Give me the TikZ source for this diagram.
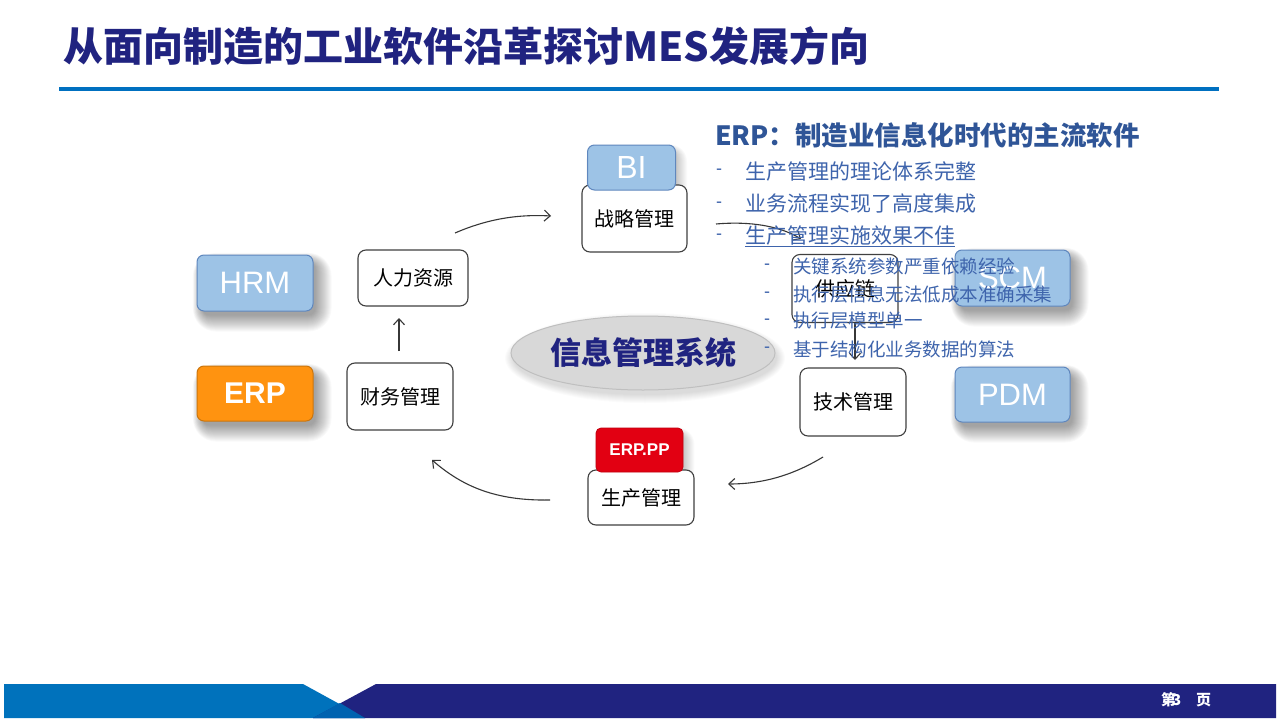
\documentclass[tikz,border=0pt]{standalone}
\usepackage{fontspec}
\setmainfont{Noto Sans CJK SC}
\newfontfamily\cjk{Noto Sans CJK SC}
\newfontfamily\arial{Liberation Sans}
\usetikzlibrary{arrows.meta,shapes.geometric,calc}
\pgfdeclarelayer{background}
\pgfsetlayers{background,main}
\definecolor{navy}{RGB}{32,35,128}
\definecolor{lineblue}{RGB}{0,112,192}
\definecolor{footblue}{RGB}{0,114,188}
\definecolor{midblue}{RGB}{0,98,176}
\definecolor{boxblue}{RGB}{157,195,230}
\definecolor{boxblueborder}{RGB}{95,135,190}
\definecolor{headblue}{RGB}{47,85,151}
\definecolor{textblue}{RGB}{62,100,172}
\definecolor{erporange}{RGB}{255,147,16}
\definecolor{erpred}{RGB}{226,0,18}
\definecolor{ellgray}{RGB}{216,216,216}
\definecolor{arrowgray}{RGB}{55,55,55}
\tikzset{
  whitebox/.style={draw=black!75,line width=1.1pt,fill=white,rounded corners=8pt,inner sep=0pt,
    font=\cjk\fontsize{20}{24}\selectfont},
  bluebox/.style={draw=boxblueborder,line width=1pt,fill=boxblue,rounded corners=7pt,inner sep=0pt,
    text=white,font=\arial\fontsize{31}{36}\selectfont},
  conn/.style={draw=arrowgray,line width=1.1pt,-{Straight Barb[length=6pt,width=11pt,line width=1.1pt]}},
  bullet/.style={anchor=west,inner sep=0pt,text=textblue,font=\cjk\fontsize{21}{24}\selectfont},
  subbullet/.style={anchor=west,inner sep=0pt,text=textblue,font=\cjk\fontsize{18.5}{22}\selectfont},
  dashmark/.style={anchor=west,inner sep=0pt,text=textblue,font=\arial\fontsize{18}{20}\selectfont}
}
% soft shadow behind a node: #1 node, #2 dx, #3 dy, #4 spread steps, #5 opacity per step
\newcommand\mysoftshadow[5]{%
  \begin{pgfonlayer}{background}
  \foreach \k in {0,...,#4}{%
    \fill[black,opacity=#5,rounded corners=7pt+\k pt]
      ($(#1.north west)+(#2-0.6*\k+4,#3-0.6*\k+4)$) rectangle ($(#1.south east)+(#2+\k,#3+\k)$);
  }
  \end{pgfonlayer}}
\begin{document}
\begin{tikzpicture}[x=1pt,y=-1pt]
\useasboundingbox (0,0) rectangle (1280,720);
\begin{pgfonlayer}{background}
\fill[white] (0,0) rectangle (1280,720);
\end{pgfonlayer}
% title
\node[anchor=west,inner sep=0pt,text=navy,font=\cjk\bfseries\fontsize{40}{46}\selectfont] (title) at (63,46) {从面向制造的工业软件沿革探讨MES发展方向};
\fill[lineblue] (59,87) rectangle (1219,91);
% footer
\fill[footblue] (4,684) -- (303,684) -- (365,718) -- (4,718) -- cycle;
\fill[navy] (376,684) -- (1276,684) -- (1276,718) -- (313,718) -- cycle;
\fill[midblue] (313,718) -- (340,703) -- (365,718) -- cycle;
\node[anchor=west,inner sep=0pt,text=white,font=\cjk\bfseries\fontsize{15}{18}\selectfont] (pg1) at (1161,700) {第};
\node[anchor=west,inner sep=0pt,text=white,font=\cjk\bfseries\fontsize{15}{18}\selectfont] (pg2) at (1172,700) {3};
\node[anchor=west,inner sep=0pt,text=white,font=\cjk\bfseries\fontsize{15}{18}\selectfont] (pg3) at (1196,700) {页};
% ellipse
\node[ellipse,draw=black!25,line width=1pt,fill=ellgray,minimum width=264pt,minimum height=74pt,inner sep=0pt,
  text=navy,font=\cjk\bfseries\fontsize{31}{36}\selectfont] (ims) at (643,353) {信息管理系统};
% white boxes
\node[whitebox,minimum width=105pt,minimum height=67pt] (zl) at (634.5,218.5) {战略管理};
\node[bluebox,minimum width=88pt,minimum height=45pt,font=\arial\fontsize{32}{36}\selectfont] (bi) at (631.5,167.5) {BI};
\node[whitebox,minimum width=110pt,minimum height=56pt] (rl) at (413,278) {人力资源};
\node[whitebox,minimum width=106pt,minimum height=67pt] (cw) at (400,396.5) {财务管理};
\node[whitebox,minimum width=106pt,minimum height=55pt] (sc) at (641,497.5) {生产管理};
\node[draw=erpred!85!black,line width=0.8pt,fill=erpred,rounded corners=5pt,minimum width=87pt,minimum height=44pt,inner sep=0pt,
  text=white,font=\arial\bfseries\fontsize{17}{20}\selectfont] (pp) at (639.5,450) {ERP.PP};
\node[whitebox,minimum width=106pt,minimum height=68pt] (gy) at (845,288.5) {供应链};
\node[whitebox,minimum width=106pt,minimum height=68pt] (js) at (853,402) {技术管理};
\node[bluebox,minimum width=116pt,minimum height=56pt] (hrm) at (255,283) {HRM};
\node[bluebox,draw=erporange!80!black,fill=erporange,minimum width=116pt,minimum height=55pt,font=\arial\bfseries\fontsize{30}{36}\selectfont] (erp) at (255,393.5) {ERP};
\node[bluebox,minimum width=115pt,minimum height=56pt] (scm) at (1012.5,278) {SCM};
\node[bluebox,minimum width=115pt,minimum height=55pt] (pdm) at (1012.5,394.5) {PDM};
% shadows
\mysoftshadow{hrm}{2}{4}{16}{0.022}
\mysoftshadow{erp}{2}{4}{16}{0.022}
\mysoftshadow{scm}{2}{4}{16}{0.022}
\mysoftshadow{pdm}{2}{4}{16}{0.022}
\mysoftshadow{bi}{1}{2}{10}{0.02}
\mysoftshadow{pp}{1}{2}{10}{0.02}
\begin{pgfonlayer}{background}
\foreach \k in {0,...,8}{\fill[black,opacity=0.015] ($(ims.center)+(2,5)$) ellipse ({132+\k} and {37+\k});}
\end{pgfonlayer}
% connectors
\coordinate (a1s) at (455,233); \coordinate (a1e) at (551,216);
\coordinate (a2s) at (716,224); \coordinate (a2e) at (801,239);
\coordinate (a3s) at (855,322); \coordinate (a3e) at (855,360);
\coordinate (a4s) at (823,457); \coordinate (a4e) at (728,484);
\coordinate (a5s) at (550,500); \coordinate (a5e) at (432,460);
\coordinate (a6s) at (399,351); \coordinate (a6e) at (399,318);
\draw[conn] (a1s) .. controls (485,220) and (515,214) .. (a1e);
\draw[conn] (a2s) .. controls (750,221) and (780,226) .. (a2e);
\draw[conn] (a3s) -- (a3e);
\draw[conn] (a4s) .. controls (795,474) and (765,484) .. (a4e);
\draw[conn] (a5s) .. controls (495,501) and (462,486) .. (a5e);
\draw[conn] (a6s) -- (a6e);
% right text
\node[anchor=west,inner sep=0pt,text=headblue,font=\cjk\bfseries\fontsize{26.5}{32}\selectfont] (head) at (715,135) {ERP：制造业信息化时代的主流软件};
\node[dashmark] (d1) at (716,172) {-};
\node[bullet] (b1) at (745,171) {生产管理的理论体系完整};
\node[dashmark] (d2) at (716,205) {-};
\node[bullet] (b2) at (745,204) {业务流程实现了高度集成};
\node[dashmark] (d3) at (716,237) {-};
\node[bullet] (b3) at (745,236) {生产管理实施效果不佳};
\draw[textblue,line width=1pt] (b3.south west) -- (b3.south east);
\node[dashmark] (e1) at (764,267) {-};
\node[subbullet] (s1) at (793,266) {关键系统参数严重依赖经验};
\node[dashmark] (e2) at (764,295) {-};
\node[subbullet] (s2) at (793,294) {执行层信息无法低成本准确采集};
\node[dashmark] (e3) at (764,322) {-};
\node[subbullet] (s3) at (793,321) {执行层模型单一};
\node[dashmark] (e4) at (764,350) {-};
\node[subbullet] (s4) at (793,349) {基于结构化业务数据的算法};
\end{tikzpicture}
\end{document}
